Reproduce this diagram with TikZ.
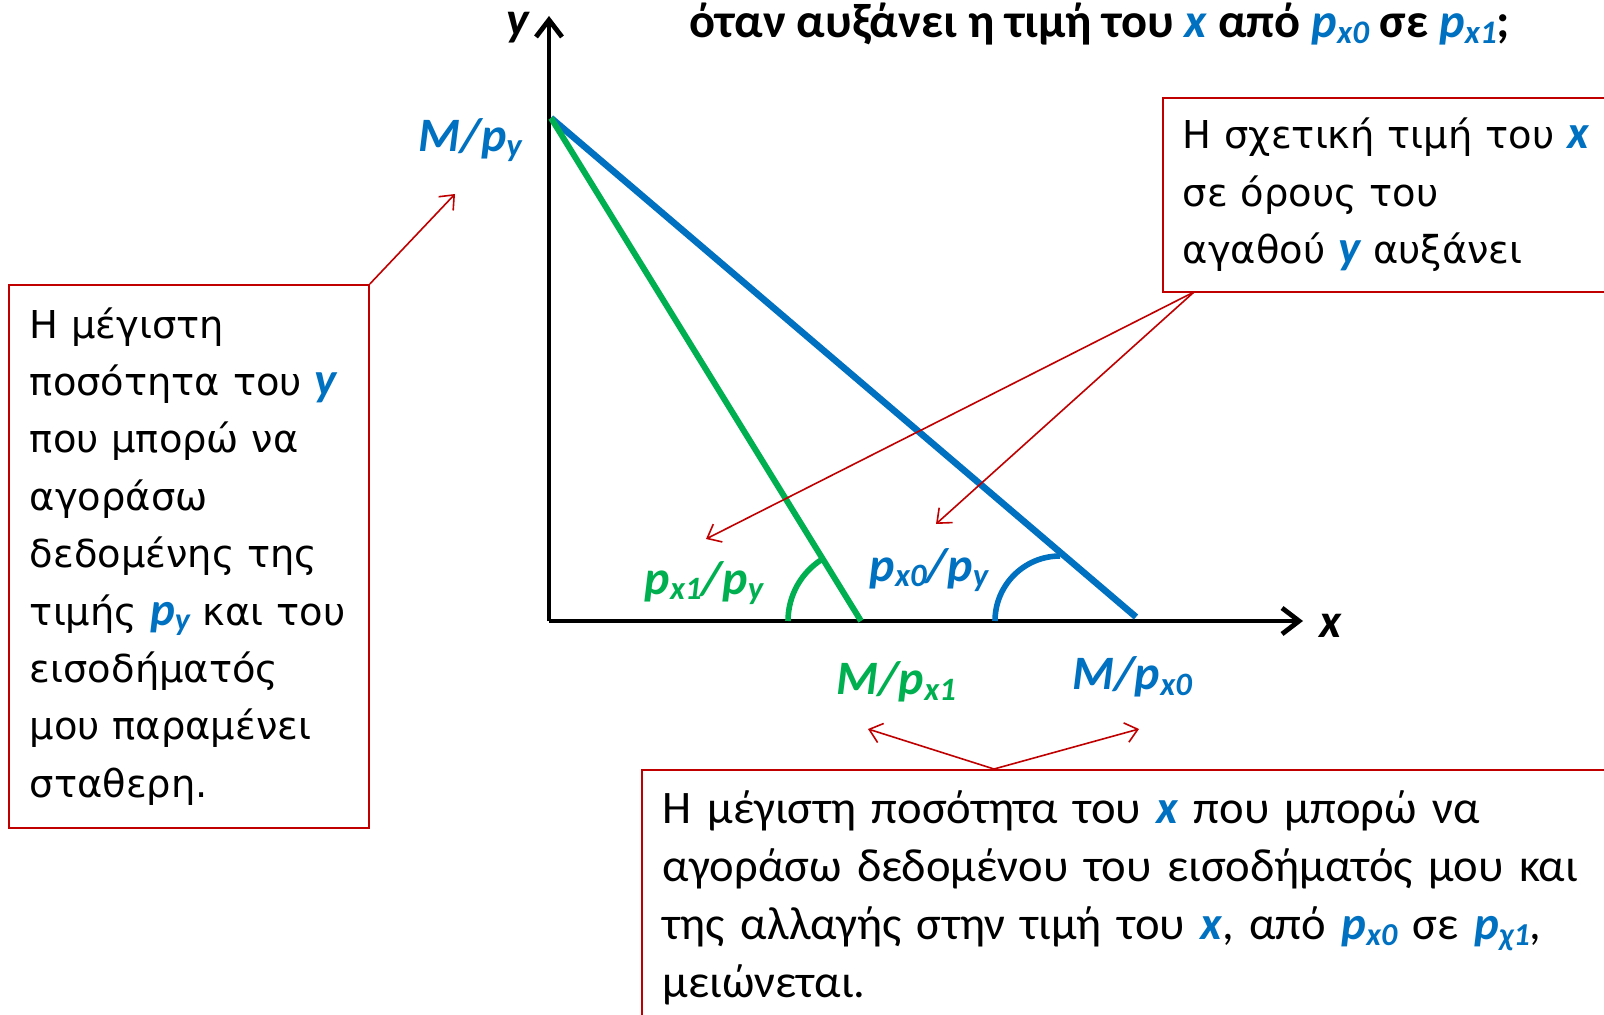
\documentclass[tikz,border=0pt]{standalone}
\usepackage{fontspec}
\usepackage{graphicx}
\setmainfont{Carlito}
\newfontfamily\dvs{DejaVu Sans}
\usetikzlibrary{arrows.meta}
\definecolor{myblue}{RGB}{0,112,192}
\definecolor{mygreen}{RGB}{0,176,80}
\definecolor{myred}{RGB}{192,0,0}
\newcommand\lowsub[1]{\raisebox{-0.12em}{\scalebox{0.68}{#1}}}
\newcommand\bv[1]{{\rmfamily\bfseries\itshape\fontsize{23.5}{28.7}\selectfont\color{myblue}#1}}
\begin{document}
\begin{tikzpicture}[x=0.5pt,y=-0.5pt,
  axisline/.style={line width=2.4pt,-{Straight Barb[length=8.5pt,width=13pt]}},
  bline/.style={myblue,line width=3.3pt},
  gline/.style={mygreen,line width=3pt},
  barc/.style={myblue,line width=2.8pt},
  garc/.style={mygreen,line width=2.8pt},
  redarrow/.style={myred,line width=0.8pt,-{Straight Barb[length=6pt,width=10pt]}},
  redbox/.style={draw=myred,line width=0.9pt,align=left,anchor=north west},
  lbl/.style={font=\fontsize{24}{24}\selectfont\bfseries\itshape,inner sep=0pt},
  boxtext/.style={font=\dvs\fontsize{19.2}{28.7}\selectfont}
]
\clip (0,0) rectangle (1604,1015);
% axes
\coordinate (O) at (549,621);
\coordinate (ytip) at (549,16);
\coordinate (xtip) at (1303,621);
\draw[axisline] (O) -- (ytip);
\draw[axisline] (O) -- (xtip);
\node[lbl] (ylab) at (518,28) {y};
\node[lbl] (xlab) at (1331,626) {x};
% budget lines
\coordinate (top) at (551,118);
\coordinate (bend) at (1136,617);
\coordinate (gend) at (861,621);
\draw[bline] (top) -- (bend);
\draw[gline] (top) -- (gend);
% angle arcs
\draw[garc] (gend) ++(-73,0) arc[start angle=180,end angle=238.4,radius=73];
\coordinate (bc) at (1060,621);
\draw[barc] (bc) ++(-65,0) arc[start angle=180,end angle=270,radius=65];
% title
\node[inner sep=0pt,font=\fontsize{24.2}{24.2}\selectfont\bfseries] (title) at (1100,24)
  {όταν αυξάνει η τιμή του \textcolor{myblue}{\itshape x} από \textcolor{myblue}{\itshape p\lowsub{x0}} σε \textcolor{myblue}{\itshape p\lowsub{x1}};};
% labels
\node[lbl,text=myblue] (mpy) at (470,140) {M/p\lowsub{y}};
\node[lbl,text=mygreen] (px1py) at (704,583) {p\lowsub{x1}/p\lowsub{y}};
\node[lbl,text=myblue] (px0py) at (929,570) {p\lowsub{x0}/p\lowsub{y}};
\node[lbl,text=mygreen] (mpx1) at (896,682) {M/p\lowsub{x1}};
\node[lbl,text=myblue] (mpx0) at (1132,677) {M/p\lowsub{x0}};
% left box
\node[redbox,boxtext,minimum width=180pt,minimum height=271.5pt,inner xsep=10.5pt,text width=159pt] (lbox) at (8,284)
 {Η μέγιστη\\
  ποσότητα του \bv{y}\\
  που μπορώ να\\
  αγοράσω\\
  δεδομένης της\\
  τιμής \bv{p\lowsub{y}} και του\\
  εισοδήματός\\
  μου παραμένει\\
  σταθερη.};
% right box
\node[redbox,boxtext,minimum height=97pt,inner xsep=10pt,text width=260pt] (rbox) at (1162,97)
 {Η σχετική τιμή του \bv{x}\\
  σε όρους του\\
  αγαθού \bv{y} αυξάνει};
% bottom box
\node[redbox,font=\fontsize{23.3}{29}\selectfont,inner xsep=10.5pt,inner ysep=10.5pt,text width=480pt] (bbox) at (641,769)
 {Η μέγιστη ποσότητα του \bv{x} που μπορώ να\\
  αγοράσω δεδομένου του εισοδήματός μου και\\
  της αλλαγής στην τιμή του \bv{x}, από \bv{p\lowsub{x0}} σε \bv{p\lowsub{χ1}},\\
  μειώνεται.\rule[-25pt]{0pt}{1pt}};
% red arrows
\coordinate (a1) at (455,194);
\draw[redarrow] (lbox.north east) -- (a1);
\coordinate (rs) at (1194,292);
\coordinate (a2) at (706,539);
\coordinate (a3) at (936,524);
\draw[redarrow] (rs) -- (a2);
\draw[redarrow] (rs) -- (a3);
\coordinate (bs) at (994,769);
\coordinate (a4) at (868,729);
\coordinate (a5) at (1139,729);
\draw[redarrow] (bs) -- (a4);
\draw[redarrow] (bs) -- (a5);
\end{tikzpicture}
\end{document}
